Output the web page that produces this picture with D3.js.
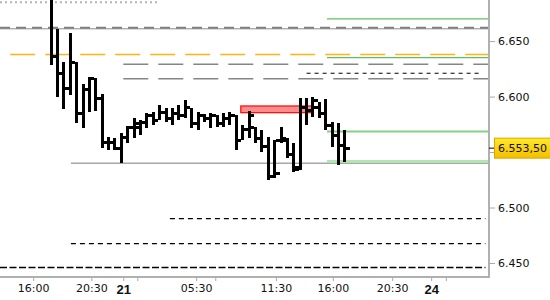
<!DOCTYPE html>
<html>
<head>
<meta charset="utf-8">
<script src="https://cdn.jsdelivr.net/npm/d3@7"></script>
<style>
  body { margin: 0; background: #fff; }
  svg { display: block; }
</style>
</head>
<body>
<div id="chart"></div>
<script>
// 30 min OHLC bars, left to right (slot 0 = first bar)
const opens  = [6690, 6636.5, 6621, 6607.5, 6631, 6585, 6606, 6616.5, 6598, 6559, 6559, 6553, 6563.5, 6572.5,
                6572, 6577, 6583, 6578, 6586, 6580, 6585, 6583, 6590, 6576, 6583, 6580, 6583, 6576, 6580, 6583,
                6560, 6570, 6572, 6562, 6555, 6528, 6560, 6560, 6548, 6534, 6590, 6587, 6590, 6585, 6574, 6565, 6556]
const highs  = [6700, 6661, 6631, 6657, 6631, 6611, 6617.5, 6616.5, 6602, 6563.5, 6562.5, 6567, 6573.5, 6580.5,
                6579, 6585, 6586, 6592, 6589.6, 6589.6, 6592.3, 6596.8, 6590, 6586, 6584.2, 6585, 6583.3, 6585, 6586, 6583.3,
                6574.3, 6587, 6572.5, 6570, 6563.5, 6561, 6572.5, 6562.6, 6558, 6598.6, 6598.6, 6599.5, 6595, 6597.7, 6577, 6576, 6569.8]
const lows   = [6628, 6599.5, 6589, 6601, 6576, 6571.5, 6586, 6587, 6553.5, 6552, 6552, 6540, 6558, 6562.5,
                6565, 6571.6, 6574, 6578.8, 6577, 6574.3, 6578.8, 6580.6, 6571.6, 6570, 6577, 6571.6, 6572.5, 6572.5, 6574.3, 6551.8,
                6560.8, 6562.6, 6558, 6550, 6525, 6526.5, 6558, 6544.6, 6532, 6533.8, 6574.3, 6581.5, 6580.6, 6569.8, 6554.5, 6538.3, 6541]
const closes = [6636.5, 6621, 6607.5, 6631, 6585, 6606, 6616.5, 6598, 6559, 6559, 6553, 6563.5, 6572.5, 6576,
                6577, 6583, 6578, 6586, 6580, 6585, 6583, 6590, 6576, 6583, 6580, 6583, 6576, 6580, 6583, 6560,
                6570, 6583, 6562, 6555, 6528, 6531, 6562, 6548, 6536, 6590, 6587, 6596, 6585, 6574, 6565, 6556, 6553.5]

// time axis, positions in bar slots
const tickSlots  = [-2.8, 6.3, 11.3, 13.5, 22.7, 25.7, 35.2, 44.1, 53.4, 59.5, 61.8]
const tickLabels = ["16:00", "20:30", "21", "", "05:30", "", "11:30", "16:00", "20:30", "24", ""]
const dayLabels  = ["21", "24"]

const priceTicks = [6450, 6500, 6550, 6600, 6650]
const lastPrice = 6553.5

// horizontal levels
const levelKinds  = ["dotted", "double", "green", "orange", "green", "grayDash", "blackDash", "grayDash",
                     "greenWide", "graySolid", "greenBand", "blackDash2", "blackDash2", "blackDash3"]
const levelPrices = [6685, 6661.5, 6670, 6638, 6635, 6629, 6621, 6616, 6568.5, 6540, 6541.5, 6490, 6467.5, 6446]
const levelFrom   = [-8, -8, 43.2, -6.4, 43.2, 11.3, 40, 11.3, 43.2, 3.1, 43.2, 18.6, 3.1, -8]
const levelTo     = [17, 68.4, 68.4, 68.4, 68.4, 68.4, 67.1, 68.4, 68.4, 68.4, 68.4, 68, 68, 68]

// red supply zone
const zoneSlots = [29.7, 41]
const zonePrices = [6585.5, 6591.5]

const W = 550, H = 300
const plotW = 488, plotH = 277

const loc = d3.formatLocale({ decimal: ",", thousands: ".", grouping: [3], currency: ["", ""] })
const fmtTick = loc.format(",")
const fmtLast = loc.format(",.2f")

const x = d3.scaleLinear().domain([-8, 68.4]).range([0, plotW])
const y = d3.scaleLinear().domain([6437.4, 6687]).range([plotH, 0])

const svg = d3.select('#chart').append('svg')
    .attr('width', W)
    .attr('height', H)

svg.append('defs').append('clipPath').attr('id', 'plotClip')
    .append('rect').attr('x', 0).attr('y', 0).attr('width', plotW).attr('height', plotH)

const plot = svg.append('g').attr('clip-path', 'url(#plotClip)')

const styles = {
    dotted:     { stroke: '#b4b4b4', width: 2, dash: '2,3' },
    green:      { stroke: '#5ebf5e', width: 1.2, dash: null },
    orange:     { stroke: '#ffb414', width: 1.5, dash: '25,10' },
    grayDash:   { stroke: '#858585', width: 1.5, dash: '25,10' },
    blackDash:  { stroke: '#000', width: 1.2, dash: '4,4' },
    greenWide:  { stroke: '#84d184', width: 2.2, dash: null },
    graySolid:  { stroke: '#a8a8a8', width: 1.5, dash: null },
    greenBand:  { stroke: '#b3e5b3', width: 3, dash: null },
    blackDash2: { stroke: '#000', width: 1.2, dash: '5,4' },
    blackDash3: { stroke: '#000', width: 1.4, dash: '7,2.5' },
}

levelPrices.forEach((p, i) => {
    const kind = levelKinds[i]
    if (kind == 'double') {
        // thin solid line with a heavier dash on top of it
        plot.append('line')
            .attr('x1', x(levelFrom[i])).attr('x2', x(levelTo[i]))
            .attr('y1', y(p) + 0.5).attr('y2', y(p) + 0.5)
            .attr('stroke', '#8a8a8a').attr('stroke-width', 1)
        plot.append('line')
            .attr('x1', x(levelFrom[i])).attr('x2', x(levelTo[i]))
            .attr('y1', y(p) - 0.5).attr('y2', y(p) - 0.5)
            .attr('stroke', '#808080').attr('stroke-width', 2)
            .attr('stroke-dasharray', '10,6')
        return
    }
    const s = styles[kind]
    plot.append('line')
        .attr('x1', x(levelFrom[i])).attr('x2', x(levelTo[i]))
        .attr('y1', y(p)).attr('y2', y(p))
        .attr('stroke', s.stroke)
        .attr('stroke-width', s.width)
        .attr('stroke-dasharray', s.dash)
})

plot.append('rect')
    .attr('x', x(zoneSlots[0]))
    .attr('y', y(zonePrices[1]))
    .attr('width', x(zoneSlots[1]) - x(zoneSlots[0]))
    .attr('height', y(zonePrices[0]) - y(zonePrices[1]))
    .attr('fill', '#ff8c8c')
    .attr('stroke', '#ff1010')
    .attr('stroke-width', 1.3)

// OHLC bars
const bars = plot.append('g').attr('shape-rendering', 'crispEdges').attr('fill', '#000')
opens.forEach((o, i) => {
    const cx = x(i)
    bars.append('rect')
        .attr('x', cx - 1.5).attr('width', 3)
        .attr('y', y(highs[i])).attr('height', y(lows[i]) - y(highs[i]))
    bars.append('rect')
        .attr('x', cx - 5).attr('width', 3.5)
        .attr('y', y(o) - 1.5).attr('height', 3)
    bars.append('rect')
        .attr('x', cx + 1.5).attr('width', 3.5)
        .attr('y', y(closes[i]) - 1.5).attr('height', 3)
})

// axes; a tick label hidden by the last price box is left blank
const coveredByLast = v => Math.abs(y(v) - y(lastPrice)) < 12
const yAxis = svg.append('g')
    .attr('transform', `translate(${plotW + 1}, 0)`)
    .call(d3.axisRight(y).tickValues(priceTicks)
        .tickFormat(v => coveredByLast(v) ? '' : fmtTick(v))
        .tickSize(6).tickPadding(3))
yAxis.select('.domain').remove()
yAxis.selectAll('line').attr('stroke', '#a8a8a8')
yAxis.selectAll('text')
    .attr('font-family', 'DejaVu Sans')
    .attr('font-size', 11)
    .attr('fill', '#111')

const xAxis = svg.append('g')
    .attr('transform', `translate(0, ${plotH})`)
    .call(d3.axisBottom(x).tickValues(tickSlots).tickFormat((d, i) => tickLabels[i]).tickSize(4).tickPadding(3))
xAxis.select('.domain').remove()
xAxis.selectAll('line').attr('stroke', '#a8a8a8')
xAxis.selectAll('text')
    .attr('font-family', 'DejaVu Sans')
    .attr('font-size', 11)
    .attr('fill', '#111')
xAxis.selectAll('text')
    .filter(t => dayLabels.includes(tickLabels[tickSlots.indexOf(t)]))
    .attr('font-family', 'Liberation Sans')
    .attr('font-weight', 'bold')
    .attr('font-size', 13)
    .attr('dy', '0.75em')

svg.append('line')
    .attr('x1', 0).attr('x2', plotW + 2)
    .attr('y1', plotH).attr('y2', plotH)
    .attr('stroke', '#b0b0b0').attr('stroke-width', 2)
svg.append('line')
    .attr('x1', plotW + 1).attr('x2', plotW + 1)
    .attr('y1', 0).attr('y2', plotH + 1)
    .attr('stroke', '#b0b0b0').attr('stroke-width', 2)

// last price marker
const grad = svg.select('defs').append('linearGradient')
    .attr('id', 'lastGrad').attr('x1', 0).attr('x2', 0).attr('y1', 0).attr('y2', 1)
grad.append('stop').attr('offset', '0%').attr('stop-color', '#ffe82a')
grad.append('stop').attr('offset', '100%').attr('stop-color', '#f4be00')

svg.append('line')
    .attr('x1', plotW + 1).attr('x2', plotW + 7)
    .attr('y1', y(lastPrice)).attr('y2', y(lastPrice))
    .attr('stroke', '#000').attr('stroke-width', 1)
svg.append('rect')
    .attr('x', plotW + 6.5).attr('y', y(lastPrice) - 10)
    .attr('width', 56).attr('height', 20)
    .attr('fill', 'url(#lastGrad)')
    .attr('stroke', '#d8a800').attr('stroke-width', 1)
svg.append('text')
    .attr('x', plotW + 10).attr('y', y(lastPrice))
    .attr('dy', '0.35em')
    .attr('font-family', 'DejaVu Sans')
    .attr('font-size', 11)
    .attr('fill', '#111')
    .text(fmtLast(lastPrice))
</script>
</body>
</html>
